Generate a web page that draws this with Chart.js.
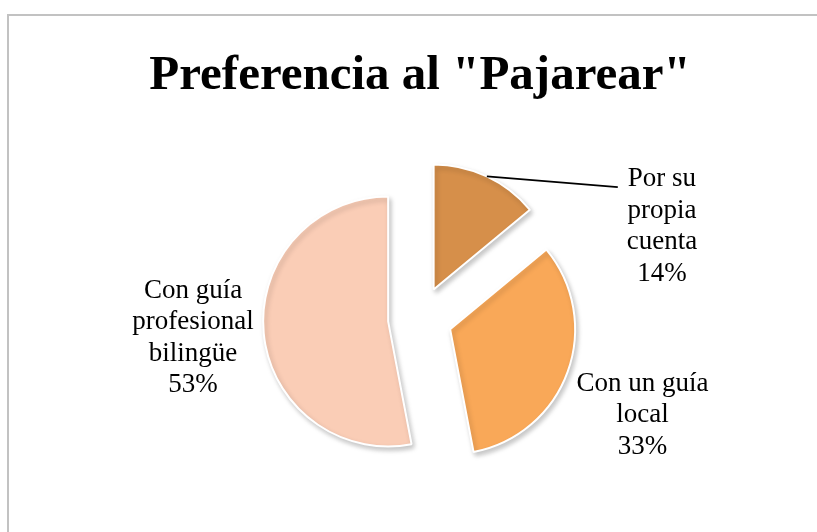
<!DOCTYPE html>
<html>
<head>
<meta charset="utf-8">
<script src="https://cdn.jsdelivr.net/npm/chart.js@4"></script>
<style>
    html, body { margin:0; padding:0; background:#fff; overflow:hidden; width:817px; height:532px; }
    #frame { position:absolute; left:7px; top:14px; width:900px; height:600px;
             border-top:2px solid #c2c2c2; border-left:2px solid #c2c2c2; box-sizing:border-box; }
    #wrap { position:absolute; left:7px; top:14px; width:825px; height:540px; }
</style>
</head>
<body>
<div id="frame"></div>
<div id="wrap"><canvas id="myChart"></canvas></div>
<script>
// data
var categories = ['Por su propia cuenta', 'Con un guía local', 'Con guía profesional bilingüe'];
var values = [14, 33, 53];
var labelLines = [
    ['Por su', 'propia', 'cuenta'],
    ['Con un guía', 'local'],
    ['Con guía', 'profesional', 'bilingüe']
];
var colors = ['#D68F4A', '#F9A858', '#FACDB6'];

// exploded slices + label placement (px shift from the bisector point)
var explode = 32;
var labelDist = 230;
var labelShift = [[144, 116], [6, 19], [2, -2]];

// chart.js' own offset also grows the radius, so move the slice centres by hand
var explodePlugin = {
    id: 'explode',
    afterDatasetUpdate: function(chart, args){
        var meta = chart.getDatasetMeta(args.index);
        meta.data.forEach(function(arc){
            var mid = (arc.startAngle + arc.endAngle) / 2;
            arc.cx0 = arc.x;
            arc.cy0 = arc.y;
            arc.x = arc.cx0 + Math.cos(mid) * explode;
            arc.y = arc.cy0 + Math.sin(mid) * explode;
        });
    }
};

var shadowPlugin = {
    id: 'shadow',
    beforeDatasetsDraw: function(chart){
        var ctx = chart.ctx;
        ctx.save();
        ctx.shadowColor = 'rgba(0,0,0,0.22)';
        ctx.shadowBlur = 5;
        ctx.shadowOffsetX = 2;
        ctx.shadowOffsetY = 3;
    },
    afterDatasetsDraw: function(chart){
        chart.ctx.restore();
    }
};

var labelPlugin = {
    id: 'sliceLabels',
    afterDraw: function(chart){
        var ctx = chart.ctx;
        var meta = chart.getDatasetMeta(0);
        var lh = 31.5;
        ctx.save();
        ctx.font = '27px "Liberation Serif"';
        ctx.fillStyle = '#000';
        ctx.textAlign = 'center';
        ctx.textBaseline = 'middle';
        meta.data.forEach(function(arc, i){
            var mid = (arc.startAngle + arc.endAngle) / 2;
            var cx = arc.cx0 + Math.cos(mid) * labelDist + labelShift[i][0];
            var cy = arc.cy0 + Math.sin(mid) * labelDist + labelShift[i][1];
            var lines = labelLines[i].concat([values[i] + '%']);
            var y0 = cy - (lines.length - 1) * lh / 2;
            lines.forEach(function(t, k){
                ctx.fillText(t, cx, y0 + k * lh);
            });
            // leader line for the small slice
            if (i === 0) {
                var sx = arc.x + Math.cos(mid) * arc.outerRadius;
                var sy = arc.y + Math.sin(mid) * arc.outerRadius;
                var ex = cx - ctx.measureText(lines[0]).width / 2 - 10;
                var ey = y0 + 8;
                ctx.beginPath();
                ctx.moveTo(sx, sy);
                ctx.lineTo(ex, ey);
                ctx.lineWidth = 1.8;
                ctx.strokeStyle = '#000';
                ctx.stroke();
            }
        });
        ctx.restore();
    }
};

var ctx = document.getElementById('myChart').getContext('2d');
var chart = new Chart(ctx, {
    type: 'pie',
    data: {
        labels: categories,
        datasets: [
            {
                data: values,
                backgroundColor: colors,
                borderColor: '#ffffff',
                borderWidth: 2
            }
        ]
    },
    options: {
        responsive: true,
        maintainAspectRatio: false,
        animation: false,
        events: [],
        radius: 125,
        layout: { padding: { left: 1, right: 0, top: 0, bottom: 23 } },
        plugins: {
            legend: { display: false },
            tooltip: { enabled: false },
            title: {
                display: true,
                text: 'Preferencia al "Pajarear"',
                color: '#000',
                font: { family: '"Liberation Serif"', size: 49, weight: 'bold', lineHeight: 1.2 },
                padding: { top: 33, bottom: 0 }
            }
        }
    },
    plugins: [explodePlugin, shadowPlugin, labelPlugin]
});
</script>
</body>
</html>
